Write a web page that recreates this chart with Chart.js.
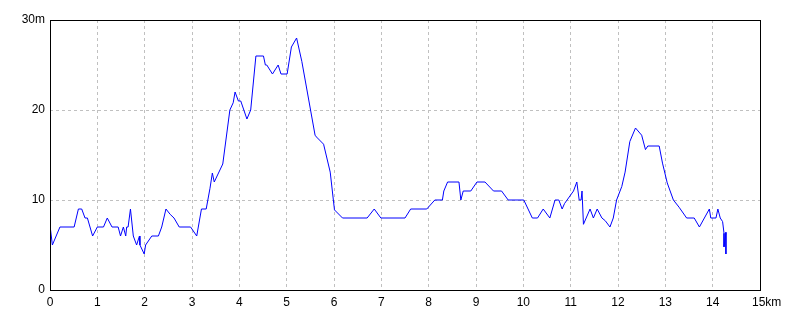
<!DOCTYPE html>
<html>
<head>
<meta charset="utf-8">
<script src="https://cdn.jsdelivr.net/npm/chart.js@4/dist/chart.umd.min.js"></script>
<style>
    html, body { margin: 0; padding: 0; background: #fff; }
    #wrap { width: 800px; height: 320px; }
</style>
</head>
<body>
<div id="wrap"><canvas id="profile"></canvas></div>
<script>
// Distance along route (km)
const distances = [
    0, 0, 0.05, 0.21, 0.51, 0.6, 0.67, 0.74, 0.79, 0.9,
    1.0, 1.13, 1.21, 1.31, 1.44, 1.49, 1.55, 1.6, 1.62, 1.65,
    1.7, 1.76, 1.83, 1.89, 1.9, 1.99, 2.02, 2.15, 2.29, 2.36,
    2.45, 2.54, 2.62, 2.73, 2.97, 3.1, 3.2, 3.3, 3.38, 3.43,
    3.47, 3.65, 3.8, 3.87, 3.91, 3.98, 4.03, 4.16, 4.24, 4.35,
    4.51, 4.55, 4.58, 4.7, 4.82, 4.88, 5.01, 5.1, 5.21, 5.32,
    5.6, 5.63, 5.78, 5.92, 6.01, 6.18, 6.7, 6.85, 6.99, 7.5,
    7.62, 7.96, 8.13, 8.29, 8.32, 8.4, 8.64, 8.68, 8.73, 8.89,
    9.02, 9.19, 9.37, 9.54, 9.68, 10.01, 10.19, 10.3, 10.42, 10.56,
    10.67, 10.75, 10.82, 10.87, 11.06, 11.13, 11.18, 11.22, 11.24, 11.27,
    11.41, 11.48, 11.56, 11.66, 11.73, 11.83, 11.9, 11.97, 12.08, 12.15,
    12.25, 12.37, 12.5, 12.58, 12.63, 12.87, 12.94, 13.04, 13.17, 13.29,
    13.45, 13.61, 13.72, 13.93, 13.96, 14.07, 14.11, 14.16, 14.21, 14.24,
    14.24, 14.28, 14.28
];

// Elevation (m)
const elevations = [
    11, 7.2, 5, 7, 7, 9, 9, 8, 8, 6,
    7, 7, 8, 7, 7, 6, 7, 6, 7, 7,
    9, 6, 5, 6, 5, 4, 5, 6, 6, 7,
    9, 8.4, 8, 7, 7, 6, 9, 9, 11.3, 13,
    12, 14, 20, 20.8, 22, 21, 21, 19, 20, 26,
    26, 25, 25, 24, 25, 24, 24, 27, 28, 25.4,
    17.2, 17, 16.2, 13.1, 8.9, 8, 8, 9, 8, 8,
    9, 9, 10, 10, 11, 12, 12, 10, 11, 11,
    12, 12, 11, 11, 10, 10, 8, 8, 9, 8,
    10, 10, 9, 9.6, 11, 12, 10, 10, 11, 7.3,
    9, 8, 9, 8, 7.7, 7, 8, 10, 11.5, 13.1,
    16.5, 18, 17.2, 15.6, 16, 16, 14.1, 11.9, 10, 9.2,
    8, 8, 7, 9, 8, 8, 9, 8, 7.6, 6.3,
    4.8, 6.4, 4
];

// Axis ranges and unit labels
const xMax = 15;
const yMax = 30;
const xUnit = 'km';
const yUnit = 'm';

const points = distances.map((d, i) => ({ x: d, y: elevations[i] }));

// Frame around the plot area
const frameBox = {
    id: 'frameBox',
    afterDraw(chart) {
        const { ctx, chartArea } = chart;
        ctx.save();
        ctx.strokeStyle = '#000';
        ctx.lineWidth = 1;
        ctx.strokeRect(Math.round(chartArea.left) + 0.5, Math.round(chartArea.top) + 0.5,
            Math.round(chartArea.right - chartArea.left), Math.round(chartArea.bottom - chartArea.top));
        ctx.restore();
    }
};

Chart.defaults.font.family = '"Liberation Sans", Arial, sans-serif';
Chart.defaults.font.size = 12;
Chart.defaults.color = '#000';

new Chart(document.getElementById('profile').getContext('2d'), {
    type: 'line',
    data: {
        datasets: [{
            data: points,
            borderColor: '#0000ff',
            borderWidth: 1,
            pointRadius: 0,
            fill: false,
            tension: 0
        }]
    },
    options: {
        responsive: true,
        maintainAspectRatio: false,
        animation: false,
        layout: { padding: { top: 20, right: 40, left: 0, bottom: 0 } },
        plugins: {
            legend: { display: false },
            tooltip: { enabled: false }
        },
        scales: {
            x: {
                type: 'linear',
                min: 0,
                max: xMax,
                grid: { color: '#c0c0c0', drawTicks: false },
                border: { display: false, dash: [3, 3] },
                ticks: {
                    stepSize: 1,
                    padding: 5,
                    maxRotation: 0,
                    callback: v => v === xMax ? '    ' + v + xUnit : String(v)
                },
                afterFit(scale) { scale.height = 30; }
            },
            y: {
                min: 0,
                max: yMax,
                grid: { color: '#c0c0c0', drawTicks: false },
                border: { display: false, dash: [3, 3] },
                ticks: {
                    stepSize: 10,
                    padding: 5,
                    callback: v => v === yMax ? v + yUnit : String(v)
                },
                afterFit(scale) { scale.width = 50; }
            }
        }
    },
    plugins: [frameBox]
});
</script>
</body>
</html>
